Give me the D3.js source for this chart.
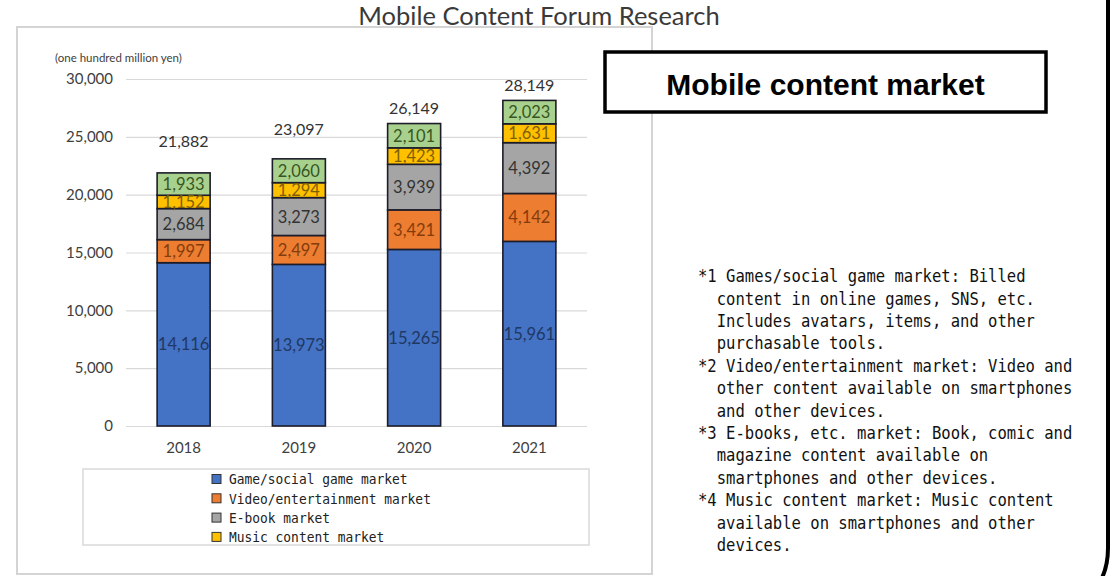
<!DOCTYPE html>
<html>
<head>
<meta charset="utf-8">
<script src="https://cdn.jsdelivr.net/npm/d3@7"></script>
<style>
  html, body { margin: 0; padding: 0; background: #fff; }
  svg { display: block; }
</style>
</head>
<body>
<svg id="chart" width="1114" height="576"></svg>
<script>
// ---------------- data ----------------
const years = ["2018", "2019", "2020", "2021"];
const seriesKeys = ["game", "video", "ebook", "music", "other"];
const legendLabels = ["Game/social game market", "Video/entertainment market", "E-book market", "Music content market"];
const gameValues  = [14116, 13973, 15265, 15961];
const videoValues = [1997, 2497, 3421, 4142];
const ebookValues = [2684, 3273, 3939, 4392];
const musicValues = [1152, 1294, 1423, 1631];
const otherValues = [1933, 2060, 2101, 2023];
const totalValues = [21882, 23097, 26149, 28149];
const yTickValues = [0, 5000, 10000, 15000, 20000, 25000, 30000];
const unitLabel = "(one hundred million yen)";
const chartTitle = "Mobile Content Forum Research";
const boxTitle = "Mobile content market";
const noteLines = [
  "*1 Games/social game market: Billed",
  "  content in online games, SNS, etc.",
  "  Includes avatars, items, and other",
  "  purchasable tools.",
  "*2 Video/entertainment market: Video and",
  "  other content available on smartphones",
  "  and other devices.",
  "*3 E-books, etc. market: Book, comic and",
  "  magazine content available on",
  "  smartphones and other devices.",
  "*4 Music content market: Music content",
  "  available on smartphones and other",
  "  devices."
];

// ---------------- style ----------------
const fills  = ["#4472C4", "#ED7D31", "#A5A5A5", "#FFC000", "#A9D18E"];
const inks   = ["#1F3864", "#843C0C", "#333333", "#7F6000", "#375623"];
const totalLift = [32, 30, 15, 15];   // manual label placement as in the source

const svg = d3.select("#chart");

// table for the stack
const table = years.map((yr, i) => ({
  year: yr, game: gameValues[i], video: videoValues[i], ebook: ebookValues[i],
  music: musicValues[i], other: otherValues[i], total: totalValues[i]
}));
const stacked = d3.stack().keys(seriesKeys)(table);

// ---------------- frames ----------------
svg.append("rect").attr("x", 17).attr("y", 27).attr("width", 635).attr("height", 547)
  .attr("fill", "#fff").attr("stroke", "#d4d4d4").attr("stroke-width", 2);

// page title
svg.append("text").attr("x", 539).attr("y", 25).attr("text-anchor", "middle")
  .attr("font-family", "Lato, 'Open Sans', sans-serif").attr("font-size", 25.5)
  .attr("fill", "#3a3a3a").text(chartTitle);

// ---------------- scales ----------------
const plotL = 126, plotR = 587, plotTop = 79, plotBottom = 426;
const x = d3.scaleBand().domain(years).range([plotL, plotR]).paddingInner(0.54).paddingOuter(0.27);
const y = d3.scaleLinear().domain([0, 30000]).range([plotBottom, plotTop]);

// unit label
svg.append("text").attr("x", 55).attr("y", 62)
  .attr("font-family", "Lato, sans-serif").attr("font-size", 11.5).attr("fill", "#404040")
  .text(unitLabel);

// y axis with gridlines
const yAxis = svg.append("g").attr("transform", `translate(${plotL},0)`)
  .call(d3.axisLeft(y).tickValues(yTickValues).tickFormat(d3.format(",")).tickSize(-(plotR - plotL)).tickPadding(13));
yAxis.select(".domain").remove();
yAxis.selectAll(".tick line").attr("stroke", "#d9d9d9").attr("stroke-width", 1.2);
yAxis.selectAll(".tick text").attr("font-family", "Lato, sans-serif").attr("font-size", 15).attr("fill", "#404040");

// x axis
const xAxis = svg.append("g").attr("transform", `translate(0,${plotBottom})`)
  .call(d3.axisBottom(x).tickSize(0).tickPadding(16));
xAxis.select(".domain").remove();
xAxis.selectAll(".tick text").attr("font-family", "Lato, sans-serif").attr("font-size", 15).attr("fill", "#404040");

// ---------------- bars ----------------
const layers = svg.append("g").selectAll("g").data(stacked).join("g")
  .attr("fill", (d, i) => fills[i]);
layers.selectAll("rect").data(d => d).join("rect")
  .attr("x", d => x(d.data.year))
  .attr("width", x.bandwidth())
  .attr("y", d => y(d[1]))
  .attr("height", d => y(d[0]) - y(d[1]))
  .attr("stroke", "#1c1c2a").attr("stroke-width", 1.6);

// segment labels
const segLabels = svg.append("g");
stacked.forEach((layer, si) => {
  segLabels.selectAll(null).data(layer).join("text")
    .attr("x", d => x(d.data.year) + x.bandwidth() / 2)
    .attr("y", d => y((d[0] + d[1]) / 2))
    .attr("dy", "0.36em")
    .attr("text-anchor", "middle")
    .attr("font-family", "Lato, sans-serif").attr("font-size", 16.5)
    .attr("fill", inks[si])
    .text(d => d3.format(",")(d[1] - d[0]));
});

// totals
svg.append("g").selectAll("text").data(table).join("text")
  .attr("x", d => x(d.year) + x.bandwidth() / 2)
  .attr("y", (d, i) => y(d.total) - totalLift[i])
  .attr("dy", "0.36em")
  .attr("text-anchor", "middle")
  .attr("font-family", "Lato, sans-serif").attr("font-size", 16).attr("fill", "#333")
  .text(d => d3.format(",")(d.total));

// ---------------- legend ----------------
svg.append("rect").attr("x", 83).attr("y", 469).attr("width", 506).attr("height", 76)
  .attr("fill", "#fff").attr("stroke", "#d9d9d9").attr("stroke-width", 1.5);
const leg = svg.append("g").selectAll("g").data(legendLabels).join("g")
  .attr("transform", (d, i) => `translate(212,${479 + i * 19.3})`);
leg.append("rect").attr("x", 0).attr("y", -4.5).attr("width", 9).attr("height", 9)
  .attr("fill", (d, i) => fills[i]).attr("stroke", "#333").attr("stroke-width", 1);
leg.append("text").attr("transform", "translate(17,0) scale(0.89,1)").attr("dy", "0.36em")
  .attr("font-family", "'DejaVu Sans Mono', monospace").attr("font-size", 14.5).attr("fill", "#222")
  .text(d => d);

// ---------------- right panel ----------------
svg.append("path").attr("d", "M1108,-5 V548 Q1108,566 1101,580")
  .attr("fill", "none").attr("stroke", "#000").attr("stroke-width", 4);

svg.append("rect").attr("x", 605).attr("y", 52).attr("width", 441).attr("height", 60)
  .attr("fill", "#fff").attr("stroke", "#000").attr("stroke-width", 3.5);
svg.append("text").attr("x", 825.5).attr("y", 95).attr("text-anchor", "middle")
  .attr("font-family", "'Liberation Sans', Arial, sans-serif").attr("font-weight", "bold")
  .attr("font-size", 30).attr("fill", "#000").text(boxTitle);

svg.append("g").selectAll("text").data(noteLines).join("text")
  .attr("transform", (d, i) => `translate(698,${276 + i * 22.4}) scale(0.915,1)`)
  .attr("dy", "0.36em")
  .attr("xml:space", "preserve").style("white-space", "pre")
  .attr("font-family", "'DejaVu Sans Mono', monospace").attr("font-size", 17).attr("fill", "#111")
  .text(d => d);
</script>
</body>
</html>
